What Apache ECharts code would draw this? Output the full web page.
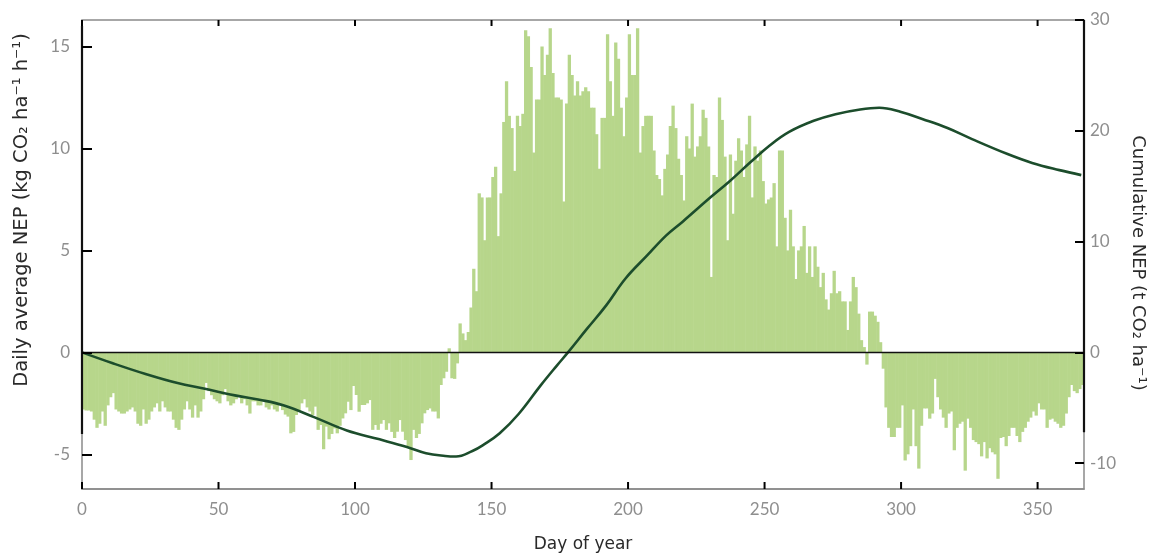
<!DOCTYPE html>
<html>
<head>
<meta charset="utf-8">
<script src="https://cdn.jsdelivr.net/npm/echarts@6/dist/echarts.min.js"></script>
<style>
html,body{margin:0;padding:0;background:#fff;}
#chart{width:1151px;height:554px;}
</style>
</head>
<body>
<div id="chart"></div>
<script>
// Daily average NEP (kg CO2 ha-1 h-1), one value per day of year, starting at day 0
const dailyNEP = [
 -2.8,-2.85,-2.85,-2.9,-3.3,-3.7,-3.5,-2.9,-3.6,-2.6,
 -2.2,-2.0,-2.8,-2.9,-3.0,-3.0,-2.9,-2.8,-2.7,-2.9,
 -3.5,-3.6,-2.8,-3.5,-3.3,-2.9,-2.7,-2.5,-2.9,-2.4,
 -2.7,-2.9,-2.9,-3.3,-3.7,-3.8,-3.3,-2.8,-2.4,-2.8,
 -3.2,-2.6,-3.2,-2.9,-2.3,-1.5,-1.9,-2.1,-2.3,-2.4,
 -2.5,-2.1,-1.8,-2.4,-2.6,-2.5,-2.3,-2.1,-2.5,-2.3,
 -2.6,-3.0,-2.4,-2.4,-2.6,-2.6,-2.4,-2.7,-2.8,-2.6,
 -2.8,-2.9,-2.5,
 -2.83,-3.05,-3.15,-3.97,-3.9,-3.07,-2.83,-2.5,-2.3,-2.7,
 -2.9,-3.07,-2.66,-3.8,-3.56,-4.75,-3.64,-4.26,-4.0,-3.73,
 -3.97,-3.6,-3.24,-2.99,-2.42,-2.83,-1.65,-2.09,-2.91,-2.58,
 -2.58,-2.5,-2.34,-3.8,-3.56,-3.8,-3.5,-3.32,-3.8,-3.48,
 -3.9,-4.2,-3.89,-3.32,-3.89,-4.3,-4.62,-5.28,-3.8,-4.2,
 -4.0,-3.48,-2.99,-2.83,-2.75,-2.9,-2.9,-3.24,-1.6,-1.27,
 -0.95,0.2,-1.27,-1.3,-0.54,1.42,0.93,0.6,1.0,
 2.2,4.1,3.0,7.8,7.6,5.5,7.6,7.6,
 8.6,9.1,5.7,7.8,11.3,13.3,11.6,11.0,8.9,11.6,
 11.1,11.7,15.8,15.5,14.0,9.8,12.4,12.4,15.0,13.6,
 14.6,15.9,13.7,12.5,12.5,12.4,7.4,12.2,14.6,13.6,
 12.6,13.3,12.6,12.8,13.0,12.8,12.0,12.0,10.7,9.0,
 11.5,11.5,15.6,13.3,11.6,15.2,14.4,12.0,10.6,12.5,
 15.6,13.6,13.6,15.9,9.8,11.1,11.6,11.6,11.6,9.9,
 8.7,8.5,7.7,9.0,9.7,11.1,12.1,11.0,9.5,8.7,
 7.45,10.6,10.0,12.2,9.6,10.1,10.6,11.9,11.5,10.1,
 3.7,8.7,8.6,12.5,11.4,9.6,5.5,9.7,6.8,9.4,
 10.5,9.9,8.6,10.2,11.6,7.6,10.1,9.4,9.9,8.4,
 7.3,7.5,7.6,8.3,5.2,9.9,9.9,6.6,5.0,7.0,
 5.2,3.6,5.0,5.2,6.2,3.9,5.2,3.7,5.2,4.2,
 3.2,3.9,2.6,2.1,2.9,4.0,2.9,3.0,2.5,2.5,
 1.1,2.5,3.7,3.2,1.9,0.6,0.26,-0.6,2.0,2.0,
 1.8,1.5,0.5,
 -0.8,-2.7,-3.7,-4.15,-4.15,-3.7,-3.7,
 -2.6,-5.3,-5.0,-4.6,-2.8,-4.6,-5.7,-3.6,-2.75,-2.75,
 -3.25,-3.0,-1.3,-2.2,-2.8,-3.2,-3.7,-3.0,-2.9,-4.8,
 -3.7,-3.5,-3.4,-5.8,-3.25,-3.7,-4.3,-4.4,-4.5,-5.1,
 -4.4,-5.2,-4.7,-4.9,-5.0,-6.2,-4.2,-4.15,-4.6,-4.1,
 -3.7,-3.7,-4.1,-4.4,-3.9,-3.7,-3.4,-3.2,-2.9,-3.1,
 -2.5,-2.8,-2.8,-3.7,-3.3,-3.25,-3.4,-3.5,-3.7,-3.6,
 -3.0,-2.2,-1.6,-1.9,-2.0,-1.8,-1.6
];
const days = dailyNEP.map((_, i) => i);

// Cumulative NEP (t CO2 ha-1)
const cumDays = [0,11,23,35,45,56,65,74,85,97,109,119,126,133,137,143,147,153,160,168,174,178,185,192,199,207,214,220,230,237,245,252,259,268,276,285,292,300,308,317,326,339,348,358,366];
const cumNEP  = [0,-0.96,-1.93,-2.77,-3.28,-3.88,-4.27,-4.79,-5.84,-7.05,-7.85,-8.54,-9.1,-9.35,-9.4,-8.9,-8.35,-7.3,-5.54,-2.98,-1.17,0,2.14,4.24,6.65,8.75,10.56,11.8,13.95,15.4,17.2,18.7,19.9,20.9,21.5,21.93,22.08,21.7,21.05,20.25,19.25,17.9,17.1,16.45,16.0];

const xTicks = [0,50,100,150,200,250,300,350];
const leftTicks = [-5,0,5,10,15];
const rightTicks = [-10,0,10,20,30];

const X_MIN = 0, X_MAX = 367, X_STEP = 50;
const L_MIN = -6.7, L_MAX = 16.3;
const R_MIN = -12.33, R_MAX = 30;

const chart = echarts.init(document.getElementById('chart'), null, {renderer:'canvas'});
const labelColor = '#8e8e8e';
const labelFont = 'Lato, "DejaVu Sans", sans-serif';
const nameFont = '"DejaVu Sans", sans-serif';
const nameColor = '#2a2a2a';
const frameColor = '#8a8a8a';

const barData = days.map((d, i) => [d + 0.5, dailyNEP[i]]);
const lineData = cumDays.map((d, i) => [d, cumNEP[i]]);

const nameGraphics = [
  {type: 'text', x: 22, y: 210, rotation: Math.PI / 2,
   style: {text: 'Daily average NEP (kg CO\u2082 ha\u207B\u00B9 h\u207B\u00B9)', fill: nameColor, font: '19.5px ' + nameFont, textAlign: 'center', textVerticalAlign: 'middle'}},
  {type: 'text', x: 1138, y: 263, rotation: -Math.PI / 2,
   style: {text: 'Cumulative NEP (t CO\u2082 ha\u207B\u00B9)', fill: nameColor, font: '18px ' + nameFont, textAlign: 'center', textVerticalAlign: 'middle'}}
];

chart.setOption({
  animation: false,
  backgroundColor: '#ffffff',
  grid: {left: 82, right: 67, top: 20, bottom: 65, containLabel: false, outerBoundsMode: 'none',
         show: true, borderColor: frameColor, borderWidth: 1.5, backgroundColor: 'transparent'},
  xAxis: [
    {
      type: 'value', min: X_MIN, max: X_MAX, interval: X_STEP, position: 'bottom',
      axisLine: {show: true, onZero: false, lineStyle: {color: frameColor, width: 1.5}},
      splitLine: {show: false},
      axisTick: {show: false},
      axisLabel: {color: labelColor, fontSize: 17, fontFamily: labelFont, margin: 12, showMaxLabel: false,
                  formatter: v => (xTicks.indexOf(v) >= 0 ? String(v) : '')},
      name: 'Day of year', nameLocation: 'middle', nameGap: 47,
      nameTextStyle: {color: nameColor, fontSize: 17, fontFamily: nameFont}
    }
  ],
  yAxis: [
    {
      type: 'value', min: L_MIN, max: L_MAX, position: 'left', z: 5,
      axisLine: {show: false, onZero: false},
      splitLine: {show: false},
      axisTick: {show: true, inside: true, length: 10, lineStyle: {color: '#000', width: 2}, customValues: leftTicks},
      axisLabel: {customValues: leftTicks, color: labelColor, fontSize: 17, fontFamily: labelFont, margin: 12}
    },
    {
      type: 'value', min: R_MIN, max: R_MAX, position: 'right', z: 5,
      axisLine: {show: false, onZero: false},
      splitLine: {show: false},
      axisTick: {show: true, inside: true, length: 9, lineStyle: {color: '#000', width: 2}, customValues: rightTicks},
      axisLabel: {customValues: rightTicks, color: labelColor, fontSize: 17, fontFamily: labelFont, margin: 6}
    }
  ],
  graphic: nameGraphics,
  series: [
    {
      type: 'bar', xAxisIndex: 0, yAxisIndex: 0,
      data: barData, barWidth: 3.3, clip: false,
      itemStyle: {color: '#b7d68b'},
      silent: true, z: 1,
      markLine: {
        silent: true, symbol: 'none', animation: false,
        label: {show: false},
        data: [
          {yAxis: 0, lineStyle: {color: '#111', width: 1.3, type: 'solid'}},
          [{coord: [X_MIN, -4], lineStyle: {color: '#111', width: 2.2, type: 'solid'}}, {coord: [X_MIN, 16]}]
        ]
      }
    },
    {
      type: 'line', xAxisIndex: 0, yAxisIndex: 1,
      data: lineData, smooth: 0.4, showSymbol: false, symbol: 'none', clip: false,
      lineStyle: {color: '#1c4d2c', width: 2.6},
      silent: true, z: 3,
      markLine: {
        silent: true, symbol: 'none', animation: false,
        label: {show: false},
        data: [
          [{coord: [X_MAX, -7.2], lineStyle: {color: '#111', width: 2.2, type: 'solid'}}, {coord: [X_MAX, 30]}]
        ]
      }
    }
  ]
});

// x-axis tick marks (inside, bottom and top), placed through the axis scales
const tickGraphics = [];
xTicks.forEach(v => {
  const pb = chart.convertToPixel({xAxisIndex: 0, yAxisIndex: 0}, [v, L_MIN]);
  const pt = chart.convertToPixel({xAxisIndex: 0, yAxisIndex: 0}, [v, L_MAX]);
  tickGraphics.push({type: 'line', z: 50, silent: true, shape: {x1: pb[0], y1: pb[1], x2: pb[0], y2: pb[1] - 7}, style: {stroke: '#000', lineWidth: 2}});
  tickGraphics.push({type: 'line', z: 50, silent: true, shape: {x1: pt[0], y1: pt[1], x2: pt[0], y2: pt[1] + 6}, style: {stroke: '#000', lineWidth: 2}});
});
chart.setOption({graphic: nameGraphics.concat(tickGraphics)}, {replaceMerge: ['graphic']});
</script>
</body>
</html>
